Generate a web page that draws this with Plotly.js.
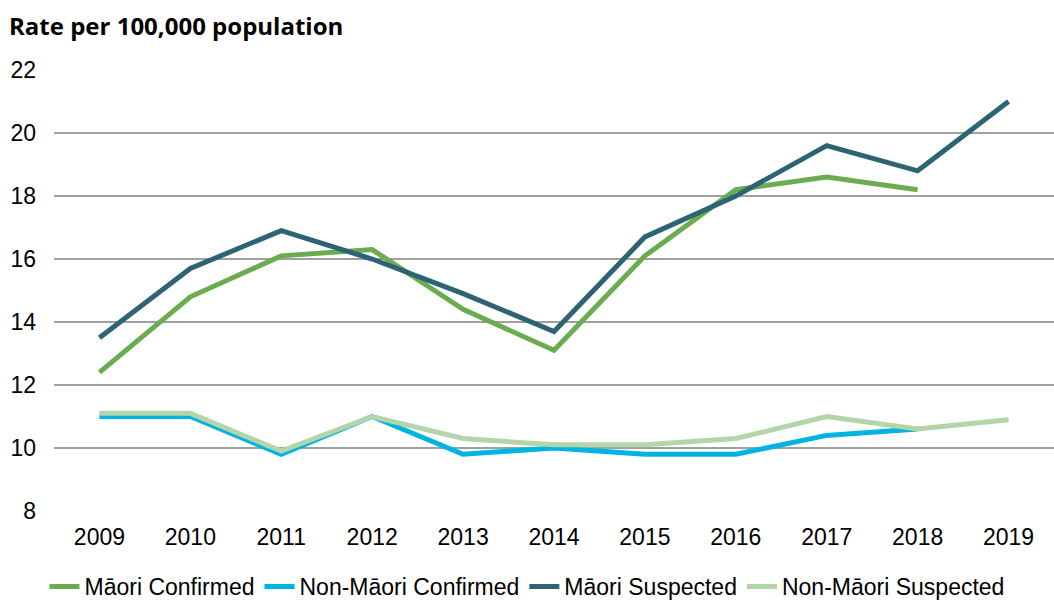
<!DOCTYPE html>
<html>
<head>
<meta charset="utf-8">
<script src="https://cdn.plot.ly/plotly-3.0.1.min.js"></script>
<style>html,body{margin:0;padding:0;background:#fff;}#chart{width:1054px;height:601px;}</style>
</head>
<body>
<div id="chart"></div>
<script>
const years = ["2009","2010","2011","2012","2013","2014","2015","2016","2017","2018","2019"];
const maoriConfirmed = [12.4, 14.8, 16.1, 16.3, 14.4, 13.1, 16.1, 18.2, 18.6, 18.2, null];
const nonMaoriConfirmed = [11.0, 11.0, 9.8, 11.0, 9.8, 10.0, 9.8, 9.8, 10.4, 10.6, null];
const maoriSuspected = [13.5, 15.7, 16.9, 16.0, 14.9, 13.7, 16.7, 18.0, 19.6, 18.8, 21.0];
const nonMaoriSuspected = [11.1, 11.1, 9.9, 11.0, 10.3, 10.1, 10.1, 10.3, 11.0, 10.6, 10.9];
const seriesNames = ["Māori Confirmed", "Non-Māori Confirmed", "Māori Suspected", "Non-Māori Suspected"];
const tickVals = [8, 10, 12, 14, 16, 18, 20, 22];

const colors = ["#6aac50", "#00b4e2", "#2d6474", "#b3d5a9"];
const data = [
  {name: seriesNames[0], y: maoriConfirmed, color: colors[0]},
  {name: seriesNames[1], y: nonMaoriConfirmed, color: colors[1]},
  {name: seriesNames[2], y: maoriSuspected, color: colors[2]},
  {name: seriesNames[3], y: nonMaoriSuspected, color: colors[3]}
].map((s, i) => ({
  type: "scatter", mode: "lines", x: years, y: s.y, name: s.name,
  line: {color: s.color, width: 5},
  connectgaps: false, hoverinfo: "skip", legendrank: i + 1
}));
// draw order: Non-Māori Suspected above Non-Māori Confirmed, Māori Suspected above Māori Confirmed
const ordered = [data[1], data[3], data[0], data[2]];
const layout = {
  width: 1054, height: 601,
  margin: {l: 54, r: 0, t: 70, b: 90},
  paper_bgcolor: "#ffffff", plot_bgcolor: "#ffffff",
  font: {family: "Liberation Sans, Arial, sans-serif", size: 23, color: "#000"},
  title: {
    text: "<b>Rate per 100,000 population</b>",
    font: {family: "Open Sans, Liberation Sans, sans-serif", size: 24, color: "#000"},
    x: 9/1054, xanchor: "left", xref: "container", y: 1 - 27/601, yanchor: "middle", yref: "container"
  },
  xaxis: {
    type: "category", categoryorder: "array", categoryarray: years,
    range: [-0.5, 10.5], showgrid: false, zeroline: false, showline: false,
    ticks: "", tickfont: {size: 23}, ticklabelstandoff: 10, fixedrange: true
  },
  yaxis: {
    range: [8, 22], tickvals: tickVals, ticktext: tickVals.map(String),
    showgrid: true, gridcolor: "#a0a0a0", gridwidth: 2, zeroline: false, showline: false,
    ticks: "", tickfont: {size: 23}, ticklabelstandoff: 17, fixedrange: true
  },
  legend: {
    orientation: "h", x: 0.5, xanchor: "center", xref: "container",
    y: 0.06, yanchor: "top", yref: "container",
    font: {size: 23}, traceorder: "normal", tracegroupgap: 0
  },
  showlegend: true
};
Plotly.newPlot("chart", ordered, layout, {staticPlot: true, displayModeBar: false});
</script>
</body>
</html>
